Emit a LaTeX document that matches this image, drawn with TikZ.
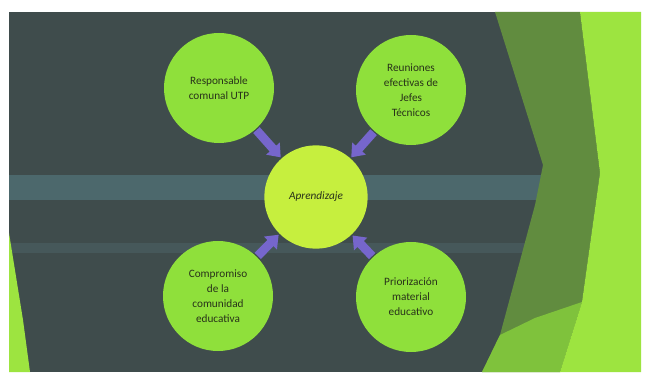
\documentclass[tikz,border=0pt]{standalone}
\usepackage{fontspec}
\setsansfont{Carlito}
\usetikzlibrary{arrows.meta}
\definecolor{slate}{HTML}{3F4C4C}
\definecolor{band}{HTML}{4C686C}
\definecolor{bandlow}{HTML}{46585A}
\definecolor{olive}{HTML}{618C3F}
\definecolor{leaf}{HTML}{7FC23C}
\definecolor{lime}{HTML}{9DE440}
\definecolor{bubblegreen}{HTML}{8FE03B}
\definecolor{hubgreen}{HTML}{C6EF3E}
\definecolor{ink}{HTML}{28321A}
\definecolor{violet}{HTML}{7666CC}

\begin{document}
\begin{tikzpicture}[x=0.03cm,y=-0.03cm,
  font=\sffamily\fontsize{9.6}{12.8}\selectfont,
  bubble/.style={circle,fill=bubblegreen,minimum size=3.3cm,align=center,
    text=ink,inner sep=0pt},
  hub/.style={circle,fill=hubgreen,minimum size=3.1cm,align=center,
    text=ink,inner sep=0pt,font=\sffamily\itshape\fontsize{9.6}{12.8}\selectfont},
  push/.style={-{Triangle[width=15pt,length=10pt]},line width=7.5pt,
    draw=violet,shorten <=1pt,shorten >=1pt}
]
  \useasboundingbox[fill=white] (0,0) rectangle (651,374);

  % slide background
  \fill[slate] (9,12) rectangle (641,372);
  \fill[band] (9,175) rectangle (545,200);
  \fill[bandlow] (9,243) rectangle (545,253);

  % green chevrons on the right
  \fill[olive] (495,12) -- (580,12) -- (600,173) -- (582,302) -- (560,372)
    -- (482,372) -- (500,335) -- (535,205) -- (543,165) -- cycle;
  \fill[leaf] (482,372) -- (500,335) -- (535,318) -- (582,302) -- (560,372) -- cycle;
  \fill[lime] (580,12) -- (641,12) -- (641,372) -- (560,372) -- (582,302)
    -- (600,173) -- cycle;
  \fill[lime] (9,233) -- (23,320) -- (30,372) -- (9,372) -- cycle;

  \node[hub] (ap) at (316,197) {Aprendizaje};
  \node[bubble] (utp) at (219,88) {Responsable\\comunal UTP};
  \node[bubble] (jefes) at (411,90) {Reuniones\\efectivas de\\Jefes\\Técnicos};
  \node[bubble] (comu) at (218,296) {Compromiso\\de la\\comunidad\\educativa};
  \node[bubble] (mat) at (411,297) {Priorización\\material\\educativo};

  \draw[push] (utp) -- (ap);
  \draw[push] (jefes) -- (ap);
  \draw[push] (comu) -- (ap);
  \draw[push] (mat) -- (ap);
\end{tikzpicture}
\end{document}
